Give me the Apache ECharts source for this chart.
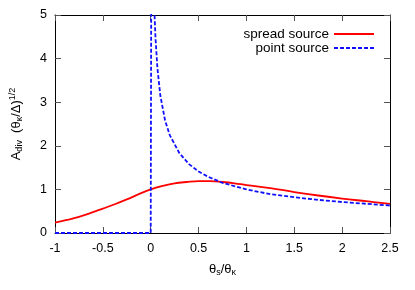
<!DOCTYPE html>
<html>
<head>
<meta charset="utf-8">
<script src="https://cdn.jsdelivr.net/npm/echarts@6/dist/echarts.min.js"></script>
<style>html,body{margin:0;padding:0;background:#fff;}#c{width:415px;height:290px;}</style>
</head>
<body>
<div id="c"></div>
<script>
var seriesNames = ['spread source', 'point source'];
var xTicks = { min: -1, max: 2.5, interval: 0.5 };
var yTicks = { min: 0, max: 5, interval: 1 };

var spreadX = [-1, -0.875, -0.75, -0.625, -0.5, -0.375, -0.25, -0.125, 0, 0.125, 0.25, 0.375, 0.5, 0.625, 0.75, 0.875, 1.0, 1.25, 1.5, 1.75, 2.0, 2.25, 2.5];
var spreadY = [0.24, 0.30, 0.37, 0.46, 0.56, 0.66, 0.77, 0.89, 1.00, 1.08, 1.14, 1.17, 1.19, 1.19, 1.17, 1.14, 1.10, 1.03, 0.94, 0.86, 0.79, 0.73, 0.67];

var pointX = [-1, 0, 0.01, 0.02, 0.03, 0.04, 0.05, 0.07, 0.1, 0.15, 0.2, 0.3, 0.4, 0.5, 0.6, 0.75, 1.0, 1.25, 1.5, 1.75, 2.0, 2.25, 2.5];
var pointY = [0, 0, 10, 7.07, 5.77, 5.0, 4.47, 3.78, 3.16, 2.58, 2.24, 1.83, 1.58, 1.41, 1.29, 1.15, 1.00, 0.89, 0.82, 0.76, 0.71, 0.67, 0.63];

function pairs(xs, ys) { return xs.map(function (x, i) { return [x, ys[i]]; }); }

var font = 'Liberation Sans, Arial, Helvetica, sans-serif';
var chart = echarts.init(document.getElementById('c'), null, { renderer: 'canvas' });

function axisBase(extra) {
  var a = {
    type: 'value',
    axisLine: { show: true, onZero: false, lineStyle: { color: '#000', width: 1 } },
    axisTick: { show: true, inside: true, length: 6, lineStyle: { color: '#555', width: 1 } },
    splitLine: { show: false },
    axisLabel: { show: false }
  };
  for (var k in extra) a[k] = extra[k];
  return a;
}

var option = {
  animation: false,
  backgroundColor: '#fff',
  textStyle: { fontFamily: font },
  grid: { left: 50, right: 25, top: 15, bottom: 57, containLabel: false },
  legend: {
    orient: 'vertical',
    align: 'right',
    right: 35,
    top: 22,
    itemWidth: 40,
    itemHeight: 13,
    itemGap: 0,
    data: seriesNames,
    itemStyle: { color: 'transparent', borderColor: 'transparent', borderWidth: 0, opacity: 0 },
    textStyle: { fontFamily: font, fontSize: 13.5, color: '#000' }
  },
  xAxis: [
    axisBase({
      min: xTicks.min, max: xTicks.max, interval: xTicks.interval, position: 'bottom',
      axisLabel: { show: true, margin: 9, color: '#000', fontSize: 12.5, fontFamily: font },
      name: 'θ{sub|s}/θ{sub|κ}',
      nameLocation: 'middle',
      nameGap: 28,
      nameTextStyle: {
        color: '#000', fontSize: 13, fontFamily: font, lineHeight: 16,
        rich: { sub: { fontSize: 9, fontFamily: font, color: '#000', verticalAlign: 'bottom', lineHeight: 9 } }
      }
    }),
    axisBase({ min: xTicks.min, max: xTicks.max, interval: xTicks.interval, position: 'top' })
  ],
  yAxis: [
    axisBase({
      min: yTicks.min, max: yTicks.max, interval: yTicks.interval, position: 'left',
      axisLabel: { show: true, margin: 8, color: '#000', fontSize: 12.5, fontFamily: font },
      name: 'A{sub|div}  (θ{sub|κ}/Δ){sup|1/2}',
      nameLocation: 'middle',
      nameRotate: 90,
      nameGap: 31,
      nameTextStyle: {
        color: '#000', fontSize: 13, fontFamily: font, lineHeight: 16,
        rich: {
          sub: { fontSize: 9, fontFamily: font, color: '#000', verticalAlign: 'bottom', lineHeight: 9 },
          sup: { fontSize: 9, fontFamily: font, color: '#000', verticalAlign: 'top', lineHeight: 9 }
        }
      }
    }),
    axisBase({ min: yTicks.min, max: yTicks.max, interval: yTicks.interval, position: 'right' })
  ],
  series: [
    {
      name: seriesNames[0], type: 'line', xAxisIndex: 0, yAxisIndex: 0,
      data: pairs(spreadX, spreadY), smooth: 0.4, symbol: 'none', clip: true,
      lineStyle: { color: '#ff0000', width: 1.8 }, itemStyle: { color: '#ff0000' }
    },
    {
      name: seriesNames[1], type: 'line', xAxisIndex: 0, yAxisIndex: 0,
      data: pairs(pointX, pointY), smooth: false, symbol: 'none', clip: true,
      lineStyle: { color: '#1010ff', width: 1.8, type: [4, 2] }, itemStyle: { color: '#1010ff' }
    }
  ]
};
chart.setOption(option);
</script>
</body>
</html>
